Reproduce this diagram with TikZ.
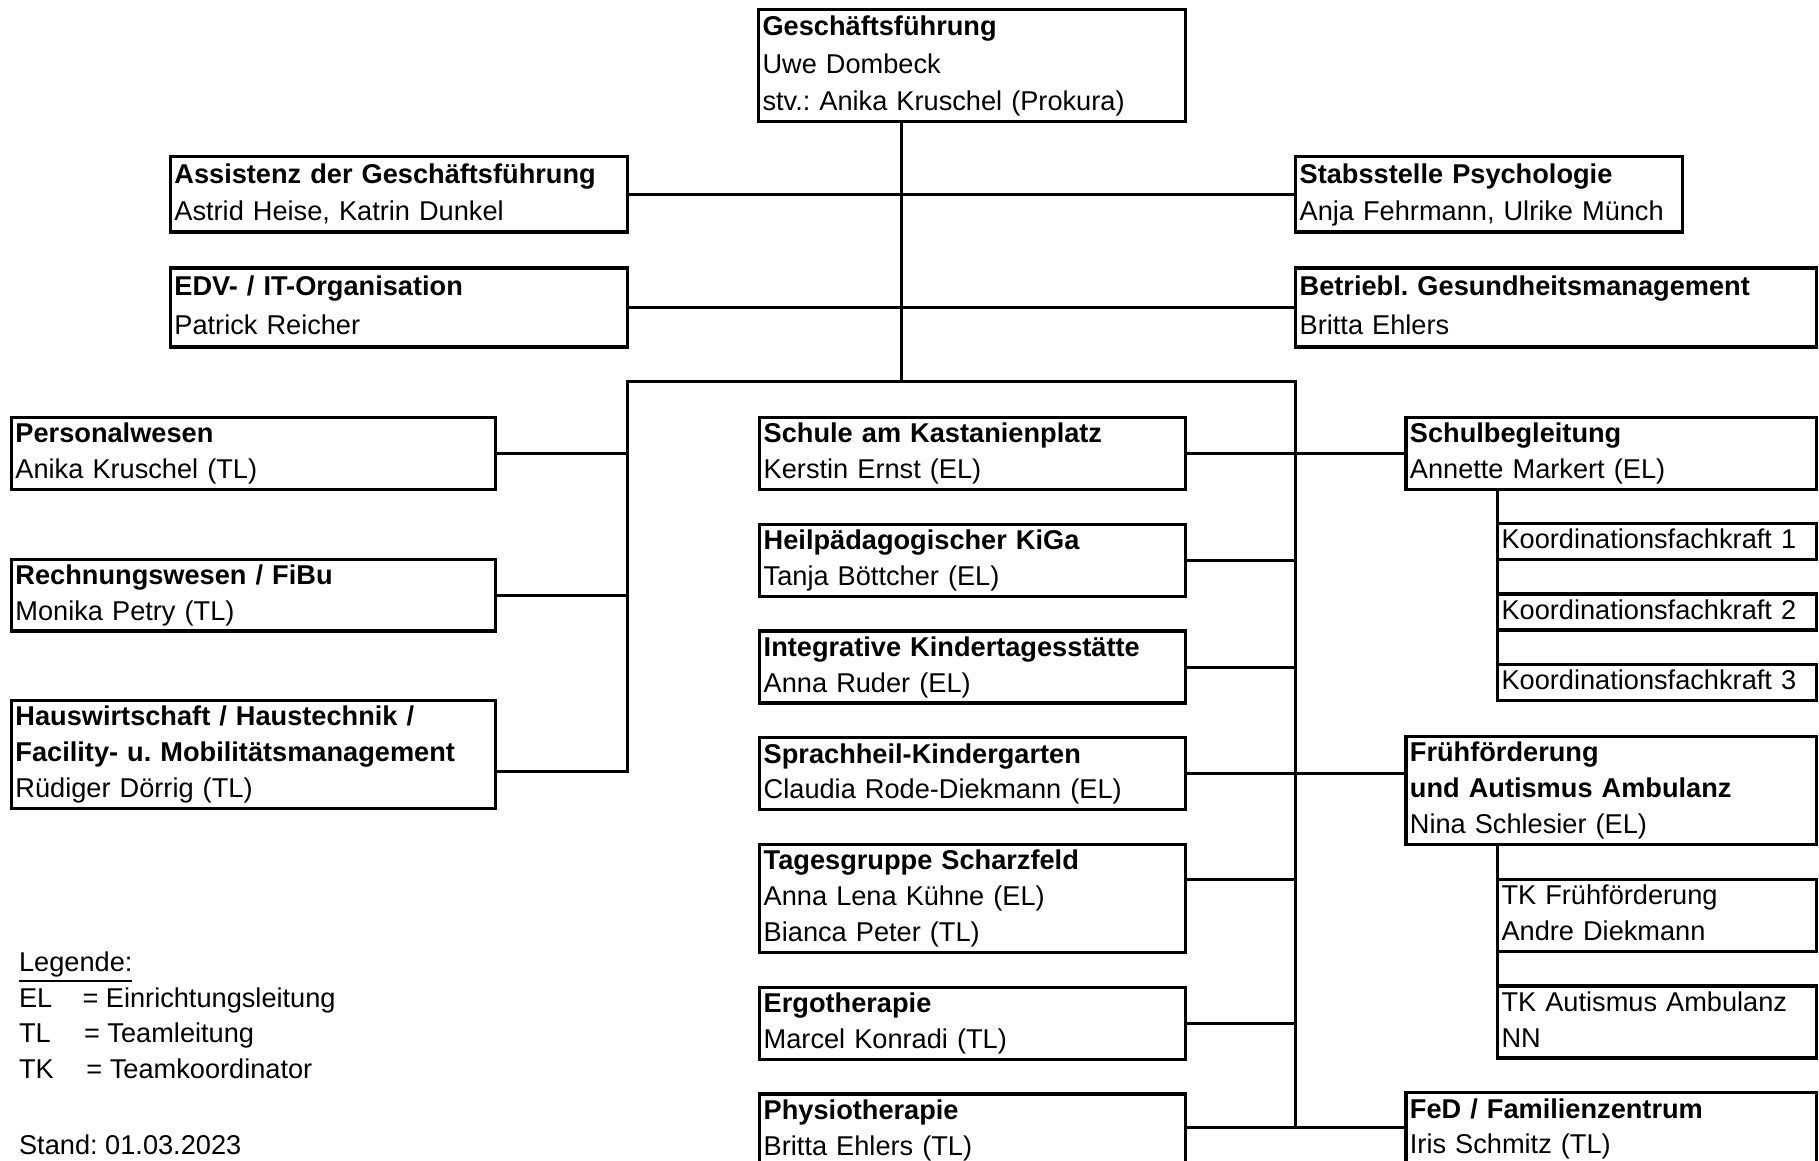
\documentclass[tikz,border=0pt]{standalone}
\usepackage{fontspec}
\setmainfont{Liberation Sans}
\usetikzlibrary{positioning}
\frenchspacing

\begin{document}
\begin{tikzpicture}[x=0.015cm,y=-0.015cm,node distance=0.45cm,
  orgbox/.style={draw,line width=1.2pt,anchor=north west,align=left,inner xsep=0.05cm,inner ysep=0pt,outer sep=0pt,
    font=\fontsize{10pt}{13.2pt}\selectfont,execute at begin node=\strut,execute at end node=\strut},
  rowskip/.style={font=\fontsize{10pt}{#1}\selectfont},
  nrows/.style={minimum height=#1*0.465cm},
  leftcol/.style={orgbox,text width=6.155cm},
  midcol/.style={orgbox,text width=5.405cm},
  rightcol/.style={orgbox,text width=5.21cm},
  subcol/.style={orgbox,text width=4.025cm},
  link/.style={line width=1.1pt}]

\useasboundingbox (0,0) rectangle (1568,1000);

% Leitung und Stabsstellen
\node[orgbox,text width=5.42cm,minimum height=1.455cm,rowskip=13.78pt](gf) at (654,8)
  {\textbf{Geschäftsführung}\\Uwe Dombeck\\stv.: Anika Kruschel (Prokura)};
\node[orgbox,text width=5.81cm,minimum height=0.975cm,rowskip=13.87pt](assist) at (147,135)
  {\textbf{Assistenz der Geschäftsführung}\\Astrid Heise, Katrin Dunkel};
\node[orgbox,text width=5.81cm,minimum height=1.02cm,rowskip=14.4pt](edv) at (147,231)
  {\textbf{EDV- / IT-Organisation}\\Patrick Reicher};
\node[orgbox,text width=4.895cm,minimum height=0.975cm,rowskip=13.87pt](stab) at (1117,135)
  {\textbf{Stabsstelle Psychologie}\\Anja Fehrmann, Ulrike Münch};
\node[orgbox,text width=6.635cm,minimum height=1.02cm,rowskip=14.4pt](bgm) at (1117,231)
  {\textbf{Betriebl. Gesundheitsmanagement}\\Britta Ehlers};

% Verwaltung
\node[leftcol,nrows=2](pers) at (10,360){\textbf{Personalwesen}\\Anika Kruschel (TL)};
\node[leftcol,nrows=2](rech)[below=0.9cm of pers]{\textbf{Rechnungswesen / FiBu}\\Monika Petry (TL)};
\node[leftcol,nrows=3](haus)[below=0.9cm of rech]{\textbf{Hauswirtschaft / Haustechnik /}\\\textbf{Facility- u. Mobilitätsmanagement}\\Rüdiger Dörrig (TL)};

% Einrichtungen
\node[midcol,nrows=2](schule) at (655,360){\textbf{Schule am Kastanienplatz}\\Kerstin Ernst (EL)};
\node[midcol,nrows=2](heil)[below=of schule]{\textbf{Heilpädagogischer KiGa}\\Tanja Böttcher (EL)};
\node[midcol,nrows=2](integ)[below=of heil]{\textbf{Integrative Kindertagesstätte}\\Anna Ruder (EL)};
\node[midcol,nrows=2](sprach)[below=of integ]{\textbf{Sprachheil-Kindergarten}\\Claudia Rode-Diekmann (EL)};
\node[midcol,nrows=3](tages)[below=of sprach]{\textbf{Tagesgruppe Scharzfeld}\\Anna Lena Kühne (EL)\\Bianca Peter (TL)};
\node[midcol,nrows=2](ergo)[below=of tages]{\textbf{Ergotherapie}\\Marcel Konradi (TL)};
\node[midcol,nrows=2](physio)[below=of ergo]{\textbf{Physiotherapie}\\Britta Ehlers (TL)};

\node[rightcol,nrows=2](schulbeg) at (1212,360){\textbf{Schulbegleitung}\\Annette Markert (EL)};
\node[subcol,nrows=1](koord1) at (1291,451){Koordinationsfachkraft 1};
\node[subcol,nrows=1](koord2)[below=of koord1]{Koordinationsfachkraft 2};
\node[subcol,nrows=1](koord3)[below=of koord2]{Koordinationsfachkraft 3};
\node[rightcol,nrows=3](frueh) at (1212,635){\textbf{Frühförderung}\\\textbf{und Autismus Ambulanz}\\Nina Schlesier (EL)};
\node[subcol,nrows=2](tkfrueh) at (1291,758){TK Frühförderung\\Andre Diekmann};
\node[subcol,nrows=2](tkaut)[below=of tkfrueh]{TK Autismus Ambulanz\\NN};
\node[rightcol,nrows=2](fed) at (1212,942){\textbf{FeD / Familienzentrum}\\Iris Schmitz (TL)};

% Legende
\node[anchor=north west,inner sep=0pt,align=left,font=\fontsize{10pt}{13.1pt}\selectfont,
  execute at begin node=\strut](legend) at (16,820)
  {\underline{Legende:}\\
   \makebox[0.82cm][l]{EL}= Einrichtungsleitung\\
   \makebox[0.84cm][l]{TL}= Teamleitung\\
   \makebox[0.87cm][l]{TK}= Teamkoordinator};
\node[anchor=north west,inner sep=0pt,font=\fontsize{10pt}{13.1pt}\selectfont,
  execute at begin node=\strut](stand) at (16,973){Stand: 01.03.2023};

% Verbindungen
\coordinate (hub) at (777,329);
\coordinate (barL) at (541,329);
\coordinate (barR) at (1117,329);
\coordinate (hausjoin) at (541,665);
\coordinate (tagesjoin) at (1117,758);
\coordinate (fedjoin) at (1117,972);

\draw[link] (gf.south -| hub) -- (hub);
\draw[link] (assist.east) -- (stab.west);
\draw[link] (edv.east) -- (bgm.west);
\draw[link] (haus.east |- hausjoin) -- (hausjoin) -- (barL) -- (barR) -- (fedjoin);
\draw[link] (pers.east) -- (pers.east -| barL);
\draw[link] (rech.east) -- (rech.east -| barL);
\draw[link] (schule.east) -- (schulbeg.west);
\draw[link] (heil.east) -- (heil.east -| barR);
\draw[link] (integ.east) -- (integ.east -| barR);
\draw[link] (sprach.east) -- (sprach.east -| frueh.west);
\draw[link] (tages.east |- tagesjoin) -- (tagesjoin);
\draw[link] (ergo.east) -- (ergo.east -| barR);
\draw[link] (physio.east |- fedjoin) -- (fed.west |- fedjoin);
\draw[link] (koord1.west |- schulbeg.south) -- (koord3.north west);
\draw[link] (tkfrueh.west |- frueh.south) -- (tkaut.north west);

\end{tikzpicture}
\end{document}
